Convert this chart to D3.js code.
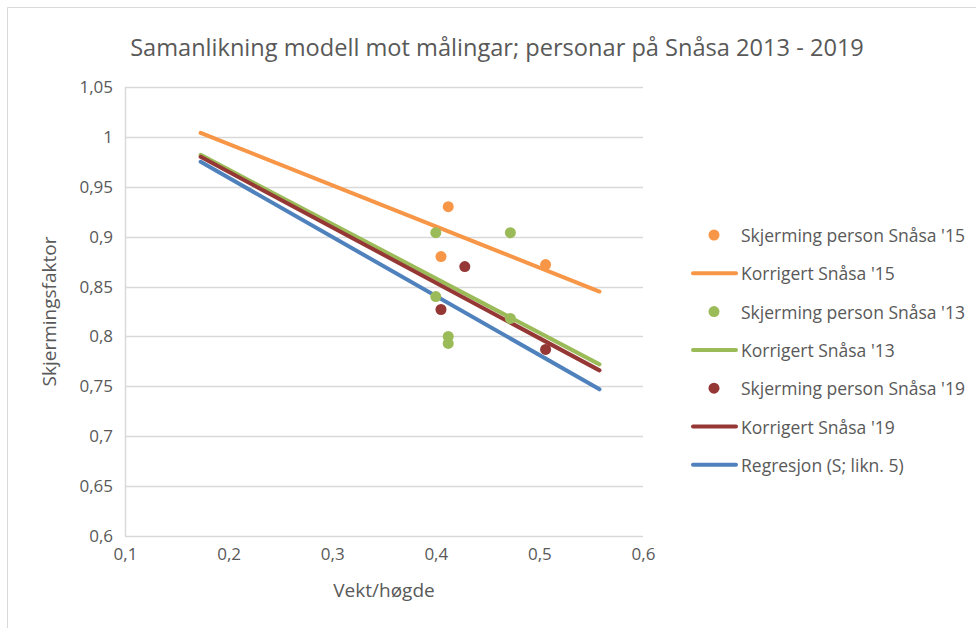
<!DOCTYPE html>
<html>
<head>
<meta charset="utf-8">
<script src="https://cdn.jsdelivr.net/npm/d3@7"></script>
<style>
  body { margin: 0; background: #fff; }
  text { font-family: "Open Sans", Lato, sans-serif; fill: #595959; }
</style>
</head>
<body>
<script>
var title = "Samanlikning modell mot målingar; personar på Snåsa 2013 - 2019";
var xTitle = "Vekt/høgde", yTitle = "Skjermingsfaktor";

var xTicks = [0.1, 0.2, 0.3, 0.4, 0.5, 0.6];
var yTicks = [0.6, 0.65, 0.7, 0.75, 0.8, 0.85, 0.9, 0.95, 1, 1.05];

// measured points (vekt/hoegde, skjermingsfaktor)
var pts15 = [[0.412, 0.930], [0.405, 0.880], [0.506, 0.872]];
var pts13 = [[0.400, 0.904], [0.472, 0.904], [0.400, 0.840], [0.412, 0.800], [0.412, 0.793], [0.472, 0.818]];
var pts19 = [[0.428, 0.870], [0.405, 0.827], [0.506, 0.787]];

// model lines
var line15 = [[0.173, 1.004], [0.558, 0.845]];
var line13 = [[0.173, 0.982], [0.558, 0.772]];
var line19 = [[0.173, 0.980], [0.558, 0.766]];
var lineReg = [[0.173, 0.975], [0.558, 0.747]];

var series = [
  {name: "Skjerming person Snåsa '15", type: "dot", color: "#F79646", data: pts15},
  {name: "Korrigert Snåsa '15", type: "line", color: "#F79646", data: line15},
  {name: "Skjerming person Snåsa '13", type: "dot", color: "#9BBB59", data: pts13},
  {name: "Korrigert Snåsa '13", type: "line", color: "#9BBB59", data: line13},
  {name: "Skjerming person Snåsa '19", type: "dot", color: "#953735", data: pts19},
  {name: "Korrigert Snåsa '19", type: "line", color: "#953735", data: line19},
  {name: "Regresjon (S; likn. 5)", type: "line", color: "#4F81BD", data: lineReg}
];

var width = 976, height = 628;

var svg = d3.select("body").append("svg")
    .attr("width", width)
    .attr("height", height);

// chart area border
svg.append("path")
    .attr("d", "M7.5," + height + "V7.5H" + width)
    .attr("fill", "none")
    .attr("stroke", "#d9d9d9");

var x = d3.scaleLinear().domain([0.1, 0.6]).range([125, 643]);
var y = d3.scaleLinear().domain([0.6, 1.05]).range([536, 87]);

var fmt = function(d) { return String(+d.toFixed(2)).replace(".", ","); };

// gridlines
svg.append("g").selectAll("line")
  .data(yTicks)
  .join("line")
    .attr("x1", x(0.1)).attr("x2", x(0.6))
    .attr("y1", d => Math.round(y(d)) + 0.5).attr("y2", d => Math.round(y(d)) + 0.5)
    .attr("stroke", "#d9d9d9")
    .attr("stroke-width", 1.5);

svg.append("line")
    .attr("x1", x(0.1) + 0.5).attr("x2", x(0.1) + 0.5)
    .attr("y1", y(1.05)).attr("y2", y(0.6))
    .attr("stroke", "#d9d9d9")
    .attr("stroke-width", 1.5);

var yAxis = d3.axisLeft(y).tickValues(yTicks).tickFormat(fmt).tickSize(0).tickPadding(12);
var gy = svg.append("g").attr("transform", "translate(" + x(0.1) + ",0)").call(yAxis);
gy.select(".domain").remove();
gy.selectAll("text").style("font-size", "17px").attr("fill", "#595959");

var xAxis = d3.axisBottom(x).tickValues(xTicks).tickFormat(fmt).tickSize(0).tickPadding(12);
var gx = svg.append("g").attr("transform", "translate(0," + y(0.6) + ")").call(xAxis);
gx.select(".domain").remove();
gx.selectAll("text").style("font-size", "17px").attr("fill", "#595959");

svg.append("text")
    .attr("x", 497).attr("y", 47)
    .attr("text-anchor", "middle").attr("dominant-baseline", "central")
    .style("font-size", "23.6px")
    .text(title);

svg.append("text")
    .attr("x", x(0.35)).attr("y", 590)
    .attr("text-anchor", "middle").attr("dominant-baseline", "central")
    .style("font-size", "19px")
    .text(xTitle);

svg.append("text")
    .attr("transform", "translate(49," + y(0.825) + ") rotate(-90)")
    .attr("text-anchor", "middle").attr("dominant-baseline", "central")
    .style("font-size", "19px")
    .text(yTitle);

var line = d3.line().x(d => x(d[0])).y(d => y(d[1]));

svg.append("g").selectAll("path")
  .data(series.filter(s => s.type == "line"))
  .join("path")
    .attr("d", d => line(d.data))
    .attr("fill", "none")
    .attr("stroke", d => d.color)
    .attr("stroke-width", 4)
    .attr("stroke-linecap", "round");

series.filter(s => s.type == "dot").forEach(function(s) {
  svg.append("g").selectAll("circle")
    .data(s.data)
    .join("circle")
      .attr("cx", d => x(d[0]))
      .attr("cy", d => y(d[1]))
      .attr("r", 5.5)
      .attr("fill", s.color);
});

// legend
var legend = svg.append("g").selectAll("g")
  .data(series)
  .join("g")
    .attr("transform", (d, i) => "translate(0," + (235 + i * 38.3) + ")");

legend.filter(d => d.type == "dot").append("circle")
    .attr("cx", 714).attr("cy", 0).attr("r", 5.5)
    .attr("fill", d => d.color);

legend.filter(d => d.type == "line").append("line")
    .attr("x1", 693).attr("x2", 736)
    .attr("stroke", d => d.color)
    .attr("stroke-width", 4)
    .attr("stroke-linecap", "round");

legend.append("text")
    .attr("x", 741).attr("y", 0)
    .attr("dominant-baseline", "central")
    .style("font-size", "17.5px")
    .text(d => d.name);
</script>
</body>
</html>
